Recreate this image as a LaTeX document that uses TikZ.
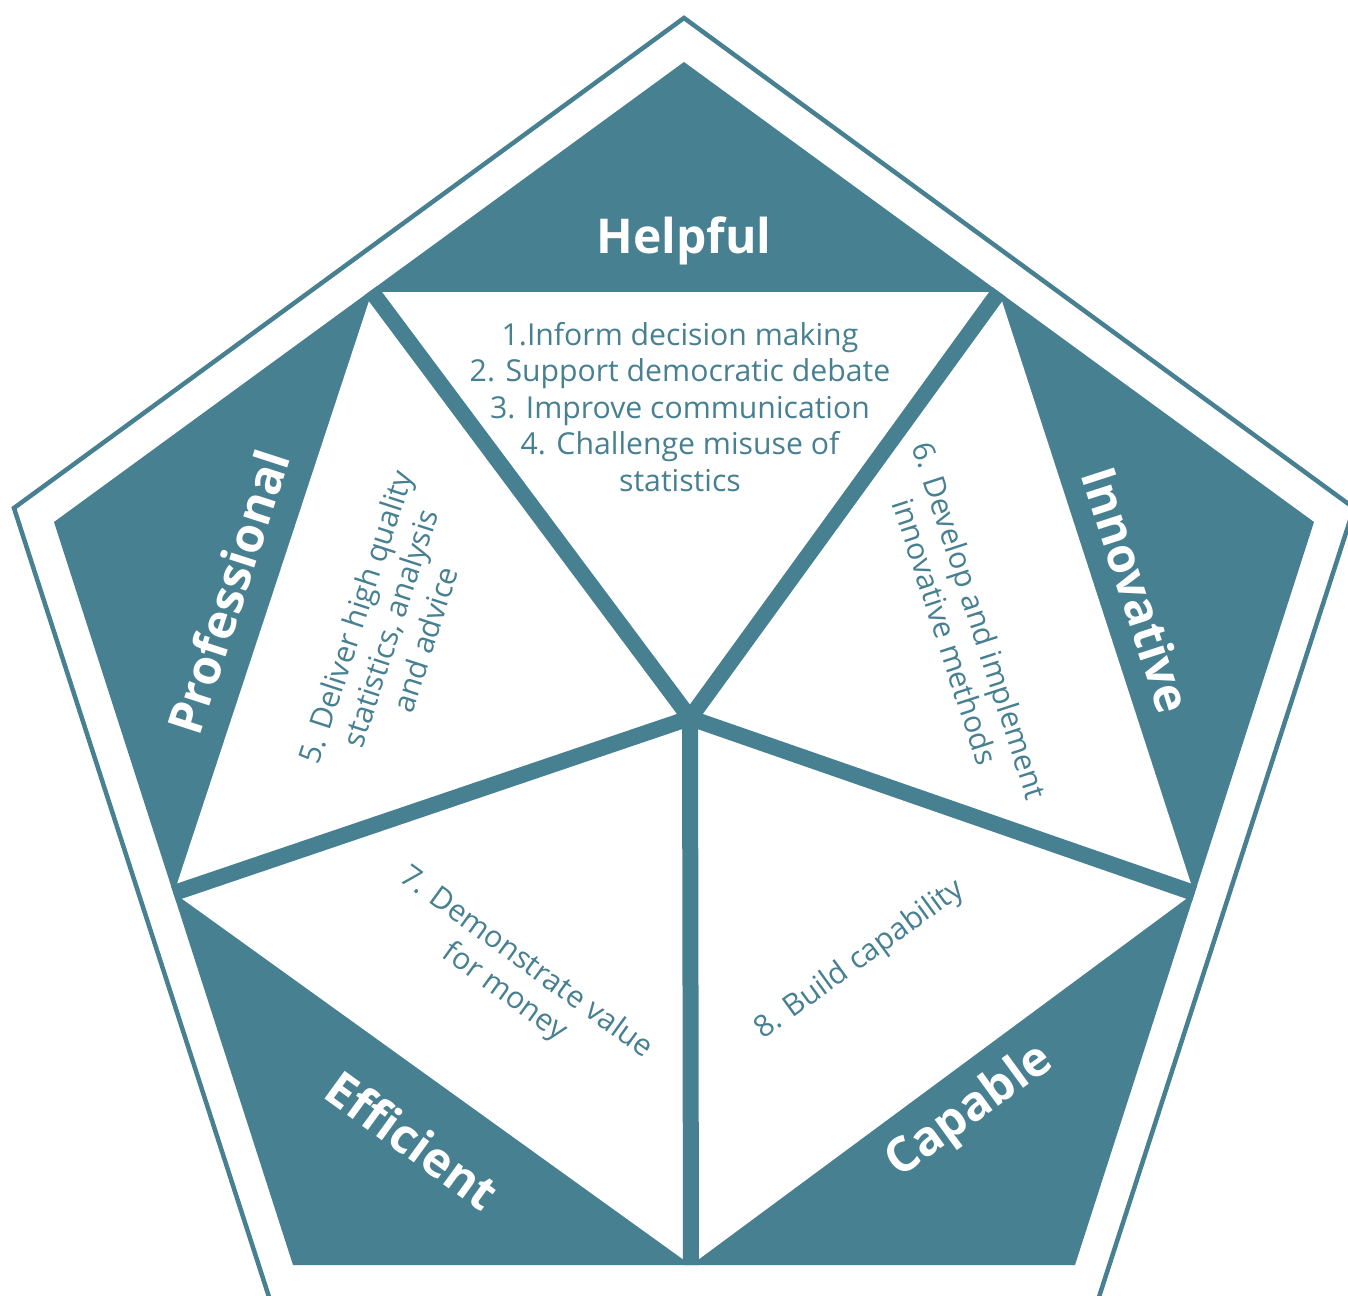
\documentclass[tikz,border=0pt]{standalone}
\usepackage{fontspec}
\setmainfont{Open Sans}
\usetikzlibrary{calc}
\definecolor{tealc}{RGB}{71,128,145}
\begin{document}
\begin{tikzpicture}[x=1pt,y=-1pt,
  big/.style={text=white,font=\fontsize{48}{56}\selectfont\bfseries,inner sep=0pt},
  small/.style={text=tealc,font=\fontsize{30.2}{36.5}\selectfont,align=center,inner sep=0pt},
  spoke/.style={draw=tealc,line width=16pt},
  outline/.style={draw=tealc,line width=4.5pt,line join=miter}]
\useasboundingbox (0,0) rectangle (1348,1295);
\clip (0,0) rectangle (1348,1295);
% outer pentagon
\coordinate (oT) at (684,18);
\coordinate (oR) at (1354,508);
\coordinate (oBR) at (1098,1300);
\coordinate (oBL) at (270,1300);
\coordinate (oL) at (14,508);
\draw[outline] (oT) -- (oR) -- (oBR) -- (oBL) -- (oL) -- cycle;
% inner filled pentagon
\coordinate (iT) at (684,62);
\coordinate (iR) at (1314,522);
\coordinate (iBR) at (1075,1265);
\coordinate (iBL) at (293,1265);
\coordinate (iL) at (54,522);
\fill[tealc] (iT) -- (iR) -- (iBR) -- (iBL) -- (iL) -- cycle;
% white midpoint pentagon
\coordinate (mTL) at (372,292);
\coordinate (mTR) at (999,292);
\coordinate (mR) at (1194,893);
\coordinate (mB) at (691,1265);
\coordinate (mL) at (174,893);
\coordinate (C) at (690,718);
\fill[white] (mTL) -- (mTR) -- (mR) -- (mB) -- (mL) -- cycle;
\begin{scope}
  \clip (iT) -- (iR) -- (iBR) -- (iBL) -- (iL) -- cycle;
  \draw[spoke] (C) -- ($(C)!1.1!(mTL)$);
  \draw[spoke] (C) -- ($(C)!1.1!(mTR)$);
  \draw[spoke] (C) -- ($(C)!1.1!(mR)$);
  \draw[spoke] (C) -- ($(C)!1.1!(mB)$);
  \draw[spoke] (C) -- ($(C)!1.1!(mL)$);
\end{scope}
% corner labels
\node[big,anchor=base] (helpful) at (684,253) {Helpful};
\node[big,rotate=72] (professional) at (228,592) {Professional};
\node[big,rotate=-72] (innovative) at (1137,590) {Innovative};
\node[big,rotate=-36] (efficient) at (413,1140) {Efficient};
\node[big,rotate=36] (capable) at (970,1112) {Capable};
% inner texts
\node[small] (t1) at (680,407) {1.Inform decision making\\2. Support democratic debate\\3. Improve communication\\4. Challenge misuse of\\statistics};
\node[small,rotate=72] (t5) at (390,628) {5. Deliver high quality\\statistics, analysis\\and advice};
\node[small,rotate=-72] (t6) at (963,626) {6. Develop and implement\\innovative methods};
\node[small,rotate=-36] (t7) at (515,978) {7. Demonstrate value\\for money};
\node[small,rotate=36] (t8) at (860,960) {8. Build capability};
\end{tikzpicture}
\end{document}
